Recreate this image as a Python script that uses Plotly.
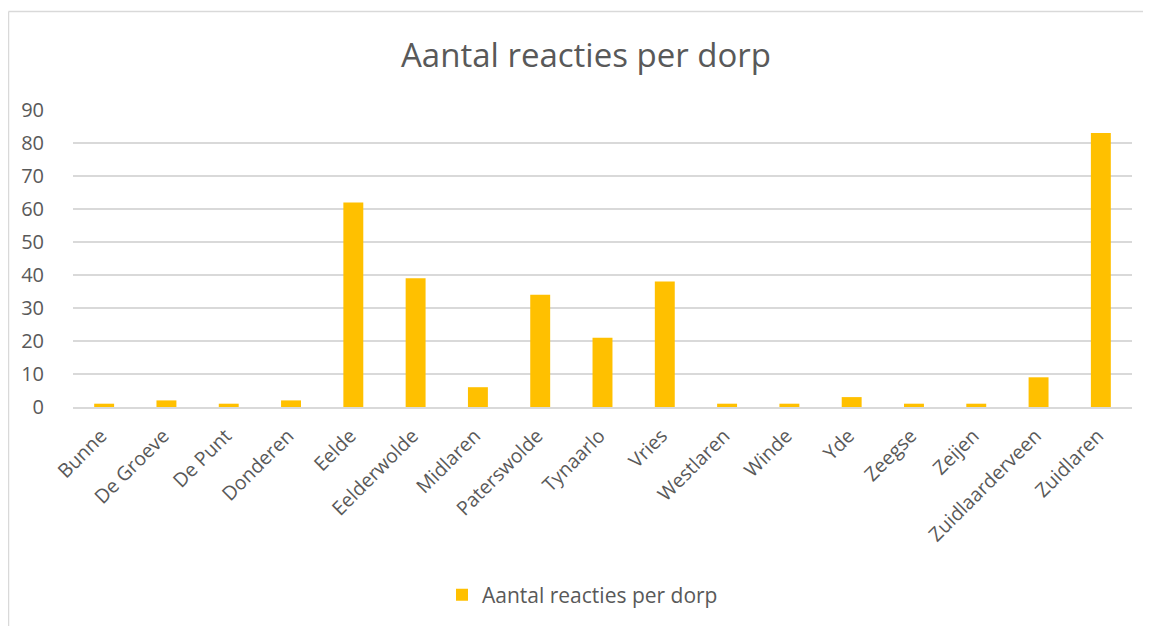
import plotly.graph_objects as go

categories = ["Bunne", "De Groeve", "De Punt", "Donderen", "Eelde", "Eelderwolde",
              "Midlaren", "Paterswolde", "Tynaarlo", "Vries", "Westlaren", "Winde",
              "Yde", "Zeegse", "Zeijen", "Zuidlaarderveen", "Zuidlaren"]
values = [1, 2, 1, 2, 62, 39, 6, 34, 21, 38, 1, 1, 3, 1, 1, 9, 83]
series_name = "Aantal reacties per dorp"
y_ticks = [0, 10, 20, 30, 40, 50, 60, 70, 80, 90]

OFF = 8  # page body margin
W, H = 1151 - OFF, 626 - OFF
L, R, T, B = 73 - OFF, 19, 110 - OFF, 219
pw, ph = W - L - R, H - T - B

def sx(px):  # screen px -> paper x
    return (px - OFF - L) / pw

def sy(py):  # screen px -> paper y
    return (H - B - (py - OFF)) / ph

FONT = "Open Sans"
GREY = "#595959"

fig = go.Figure()
fig.add_trace(go.Bar(
    x=categories, y=values, name=series_name,
    marker=dict(color="#FFC000", line=dict(width=0)),
    showlegend=True,
))

fig.update_layout(
    width=W, height=H,
    margin=dict(l=L, r=R, t=T, b=B, autoexpand=False),
    paper_bgcolor="white", plot_bgcolor="white",
    font=dict(family=FONT, color=GREY),
    title=dict(text="Aantal reacties per dorp", x=(586 - OFF) / W, xref="container",
               xanchor="center", y=1 - (55 - OFF) / H, yref="container", yanchor="middle",
               font=dict(size=33, color=GREY, family=FONT)),
    bargap=0.68,
    showlegend=True,
    legend=dict(orientation="h", x=sx(442), xanchor="left",
                y=sy(595), yanchor="middle",
                font=dict(size=21, color=GREY, family=FONT),
                bgcolor="rgba(0,0,0,0)"),
    xaxis=dict(tickangle=-45, tickfont=dict(size=19.5, color=GREY, family=FONT),
               showgrid=False, showline=True, linecolor="#d9d9d9", linewidth=1.5,
               ticks="", ticklabelshift=-3, ticklabelstandoff=8, fixedrange=True),
    yaxis=dict(range=[0, 90], tickvals=y_ticks, showgrid=True, gridcolor="#d9d9d9",
               gridwidth=1.5, zeroline=False, showline=False, ticks="",
               tickfont=dict(size=20, color=GREY, family=FONT),
               ticklabelstandoff=28, fixedrange=True),
    shapes=[
        dict(type="line", xref="paper", yref="paper",
             x0=sx(8.5), x1=sx(1151 + 5),
             y0=sy(11.5), y1=sy(11.5),
             line=dict(color="#d9d9d9", width=1.5)),
        dict(type="line", xref="paper", yref="paper",
             x0=sx(8.5), x1=sx(8.5),
             y0=sy(11.5), y1=sy(626 + 5),
             line=dict(color="#d9d9d9", width=1.5)),
    ],
)

fig.write_html("out.html")
